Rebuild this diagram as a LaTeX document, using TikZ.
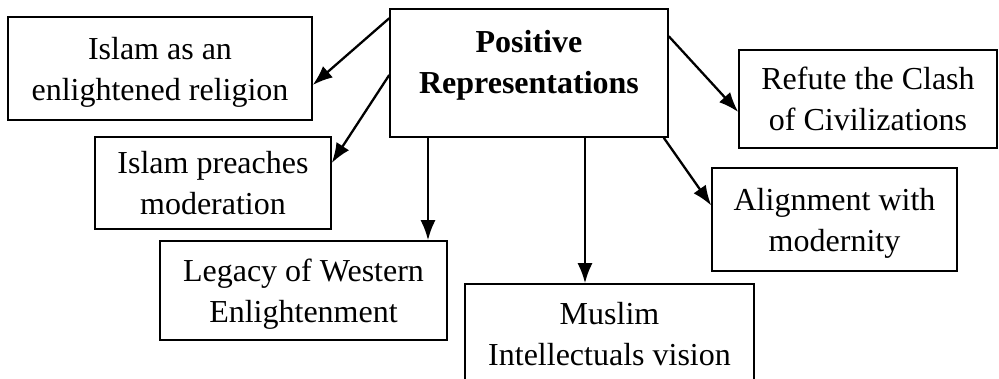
\documentclass[tikz,border=0pt]{standalone}
\usepackage{fontspec}
\setmainfont{Liberation Serif}
\usetikzlibrary{arrows.meta}
\begin{document}
\begin{tikzpicture}[x=1pt,y=-1pt,
box/.style={rectangle,draw=black,line width=1.5pt,align=center,inner sep=0pt,text depth=0pt,font=\fontsize{32}{41}\selectfont},
link/.style={line width=2.3pt,-{Latex[length=20pt,width=15pt]}}]
\useasboundingbox (0,0) rectangle (999,379);
%Node Coordinates
\node at (529,73) [box,minimum width=278pt,minimum height=128pt,font=\fontsize{32}{41}\selectfont\bfseries,text depth=22pt] (Pos) {Positive\\Representations};
\node at (160,68.5) [box,minimum width=304pt,minimum height=103pt] (Enl) {Islam as an\\enlightened religion};
\node at (213,183) [box,minimum width=236pt,minimum height=92pt] (Mod) {Islam preaches\\moderation};
\node at (303.5,290.5) [box,minimum width=287pt,minimum height=99pt] (Leg) {Legacy of Western\\Enlightenment};
\node at (609.5,333.5) [box,minimum width=289pt,minimum height=99pt] (Mus) {Muslim\\Intellectuals vision};
\node at (868,99) [box,minimum width=258pt,minimum height=98pt] (Ref) {Refute the Clash\\of Civilizations};
\node at (834.5,219.5) [box,minimum width=245pt,minimum height=103pt] (Ali) {Alignment with\\modernity};
%connections
\draw [link] ([yshift=-10pt]Pos.north west) -- ([yshift=-16.5pt]Enl.east);
\draw [link] ([yshift=-2pt]Pos.west) -- ([yshift=20pt]Mod.east);
\draw [link] ([xshift=-101pt]Pos.south) -- ([xshift=124.5pt]Leg.north);
\draw [link] ([xshift=56pt]Pos.south) -- ([xshift=-24.5pt]Mus.north);
\draw [link] ([yshift=-28pt]Pos.north east) -- ([yshift=-13pt]Ref.west);
\draw [link] ([xshift=-5pt]Pos.south east) -- ([yshift=14pt]Ali.west);
\end{tikzpicture}
\end{document}
